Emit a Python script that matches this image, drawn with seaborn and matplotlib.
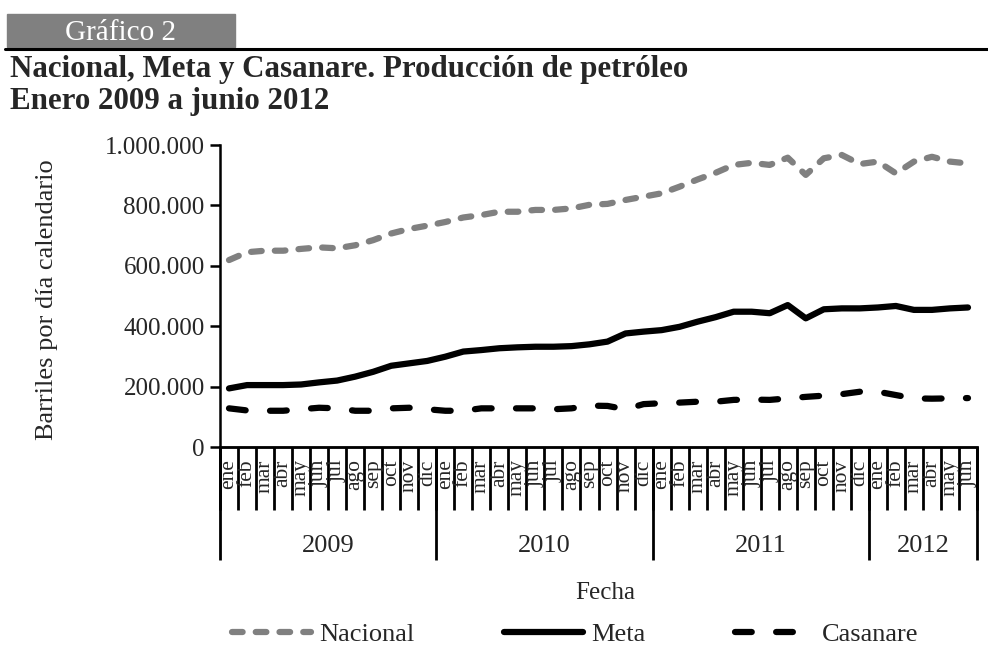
import numpy as np
import pandas as pd
import matplotlib.pyplot as plt
from matplotlib.patches import Rectangle
from matplotlib.lines import Line2D
import seaborn as sns

# Producción de petróleo, barriles por día calendario
meses = ["ene", "feb", "mar", "abr", "may", "jun", "jul", "ago", "sep", "oct", "nov", "dic"]
anios = ["2009", "2010", "2011", "2012"]
meses_por_anio = [12, 12, 12, 6]

nacional = [619, 645, 650, 650, 656, 661, 658, 668, 685, 707, 722, 733,
            745, 760, 768, 779, 779, 785, 785, 790, 802, 805, 818, 829,
            840, 862, 886, 908, 934, 941, 934, 958, 901, 956, 967, 937,
            945, 906, 945, 961, 945, 939]
meta = [194, 205, 205, 205, 207, 214, 220, 233, 249, 269, 277, 285,
        299, 316, 321, 327, 330, 332, 332, 334, 340, 349, 376, 382,
        387, 398, 415, 430, 448, 448, 443, 470, 426, 456, 459, 459,
        462, 467, 454, 454, 459, 462]
casanare = [128, 121, 120, 120, 125, 130, 128, 120, 120, 128, 130, 125,
            120, 120, 128, 128, 128, 128, 125, 128, 137, 136, 125, 142,
            145, 147, 150, 150, 156, 157, 156, 161, 166, 170, 175, 183,
            183, 172, 161, 160, 161, 162]

sns.set_theme(style="white")
plt.rcParams["font.family"] = ["Liberation Serif", "DejaVu Serif"]

etiquetas = [m for n in meses_por_anio for m in meses[:n]]
df = pd.DataFrame({
    "pos": np.arange(len(etiquetas)),
    "Nacional": np.array(nacional) * 1000,
    "Meta": np.array(meta) * 1000,
    "Casanare": np.array(casanare) * 1000,
})

W, H = 988, 645
fig = plt.figure(figsize=(W / 100, H / 100), dpi=100)
ax = fig.add_axes([220 / W, 198 / H, 757 / W, 302 / H])

lw = 4.5
sns.lineplot(data=df, x="pos", y="Nacional", color="#808080", lw=lw,
             linestyle=(0, (1.7, 2.1)), dash_capstyle="round", label="Nacional", ax=ax)
sns.lineplot(data=df, x="pos", y="Meta", color="black", lw=lw,
             solid_capstyle="round", solid_joinstyle="round", label="Meta", ax=ax)
sns.lineplot(data=df, x="pos", y="Casanare", color="black", lw=lw,
             linestyle=(0, (2.68, 3.9)), dash_capstyle="round", label="Casanare", ax=ax)
if ax.get_legend() is not None:
    ax.get_legend().remove()

# eje y
ax.set_ylim(0, 1_000_000)
ax.set_yticks(np.arange(0, 1_000_001, 200_000))
ax.set_yticklabels([f"{int(v):,}".replace(",", ".") for v in ax.get_yticks()], fontsize=18)
ax.tick_params(axis="y", direction="out", length=7, width=1.8, color="black", pad=4, left=True)
ax.set_ylabel("")
ax.set_xlabel("")

for side in ["top", "right"]:
    ax.spines[side].set_visible(False)
for side in ["left", "bottom"]:
    ax.spines[side].set_color("black")
    ax.spines[side].set_linewidth(1.8)

# eje x: meses
n = len(etiquetas)
ax.set_xlim(-0.5, n - 0.5)
ax.set_xticks(np.arange(-0.5, n, 1.0))
ax.set_xticklabels([])
ax.set_xticks(np.arange(n), labels=etiquetas, minor=True)
ax.tick_params(axis="x", which="major", direction="out", length=45, width=2, color="black", bottom=True)
ax.tick_params(axis="x", which="minor", length=0, pad=9, labelsize=15.5, labelrotation=90, bottom=True)

# eje x: años
limites = np.concatenate([[0], np.cumsum(meses_por_anio)]) - 0.5
centros = (limites[:-1] + limites[1:]) / 2
sec = ax.secondary_xaxis("bottom")
sec.set_xticks(limites)
sec.set_xticklabels([])
sec.set_xticks(centros, labels=anios, minor=True)
sec.tick_params(axis="x", which="major", direction="out", length=81, width=2, color="black")
sec.tick_params(axis="x", which="minor", length=0, pad=63, labelsize=19)
sec.spines["bottom"].set_linewidth(1.8)

fig.text(47 / W, 1 - 300 / H, "Barriles por día calendario", rotation=90,
         ha="center", va="center", fontsize=19)
fig.text(605 / W, 1 - 593 / H, "Fecha", ha="center", va="center", fontsize=18)

# encabezado
fig.patches.append(Rectangle((7 / W, 1 - 47 / H), 228 / W, 33 / H,
                             transform=fig.transFigure, color="#808080", zorder=0))
fig.text(65 / W, 1 - 40 / H, "Gráfico 2", color="white", fontsize=21, va="baseline")
fig.add_artist(Line2D([5 / W, 1], [1 - 49 / H, 1 - 49 / H], color="black", lw=2.2))
fig.text(10 / W, 1 - 77 / H, "Nacional, Meta y Casanare. Producción de petróleo",
         fontsize=22.3, fontweight="bold", va="baseline")
fig.text(10 / W, 1 - 109 / H, "Enero 2009 a junio 2012",
         fontsize=22.3, fontweight="bold", va="baseline")

handles, labels = ax.get_legend_handles_labels()
fig.legend(handles, labels, loc="center", bbox_to_anchor=(0.582, 1 - 634 / H), ncol=3,
           frameon=False, fontsize=19, handlelength=3.0, handletextpad=0.3, columnspacing=3.4)

fig.savefig("out.png", dpi=100, facecolor="white")
